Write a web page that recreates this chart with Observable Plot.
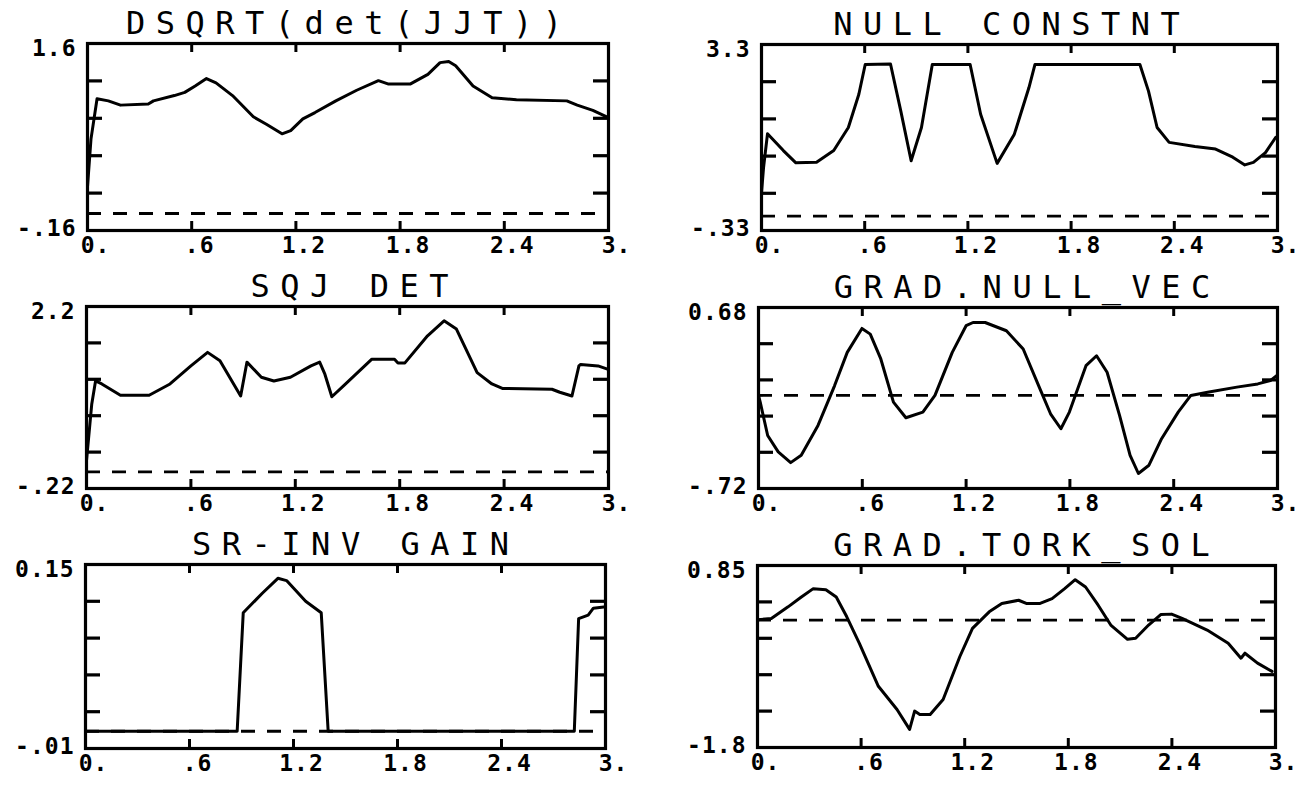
<!DOCTYPE html>
<html><head><meta charset="utf-8">
<script src="https://cdn.jsdelivr.net/npm/d3@7"></script>
<script src="https://cdn.jsdelivr.net/npm/@observablehq/plot@0.6"></script>
<style>
html,body{margin:0;padding:0;background:#fff;}
body{width:1307px;height:785px;overflow:hidden;position:relative;}
.panel{position:absolute;}
.panel svg{overflow:visible;}
</style></head><body>
<script>
// ---------- data ----------
const xTicks = [0, 0.6, 1.2, 1.8, 2.4, 3];
const xTickLabels = ["0.", ".6", "1.2", "1.8", "2.4", "3."];
const xInnerTicks = [0.6, 1.2, 1.8, 2.4];

const titles = ["DSQRT(det(JJT))", "NULL CONSTNT", "SQJ DET", "GRAD.NULL_VEC", "SR-INV GAIN", "GRAD.TORK_SOL"];
const yDomains = [[-0.16, 1.6], [-0.33, 3.3], [-0.22, 2.2], [-0.72, 0.68], [-0.01, 0.15], [-1.8, 0.85]];
const yTickLabels = [["-.16", "1.6"], ["-.33", "3.3"], ["-.22", "2.2"], ["-.72", "0.68"], ["-.01", "0.15"], ["-1.8", "0.85"]];
const refLevels = [0, -0.05, 0, 0, 0.005, 0.055];

const dsqrtDet = [[0,0.25],[0.02,0.7],[0.055,1.08],[0.12,1.06],[0.19,1.02],[0.35,1.03],[0.38,1.06],[0.50,1.11],[0.56,1.14],[0.62,1.20],[0.685,1.27],[0.74,1.23],[0.835,1.11],[0.955,0.91],[1.03,0.84],[1.12,0.75],[1.17,0.78],[1.24,0.89],[1.31,0.95],[1.43,1.06],[1.55,1.16],[1.675,1.25],[1.73,1.22],[1.86,1.22],[1.96,1.31],[2.03,1.42],[2.08,1.43],[2.12,1.39],[2.22,1.20],[2.33,1.09],[2.47,1.07],[2.76,1.06],[2.82,1.02],[2.91,0.97],[2.99,0.91]];

const nullConstnt = [[0,0.4],[0.012,0.9],[0.035,1.56],[0.127,1.23],[0.2,0.99],[0.32,1.0],[0.42,1.23],[0.505,1.68],[0.566,2.33],[0.603,2.91],[0.75,2.92],[0.81,2.0],[0.87,1.03],[0.93,1.68],[0.993,2.91],[1.213,2.91],[1.274,1.94],[1.37,0.98],[1.47,1.55],[1.555,2.46],[1.59,2.91],[2.20,2.91],[2.25,2.39],[2.30,1.68],[2.37,1.39],[2.52,1.31],[2.64,1.26],[2.74,1.1],[2.81,0.95],[2.86,1.0],[2.93,1.19],[2.99,1.49]];

const sqjDet = [[0,0.15],[0.03,0.9],[0.052,1.21],[0.088,1.17],[0.195,1.02],[0.36,1.02],[0.48,1.17],[0.60,1.41],[0.696,1.59],[0.767,1.48],[0.886,1.01],[0.922,1.46],[1.005,1.26],[1.077,1.21],[1.172,1.26],[1.29,1.41],[1.34,1.46],[1.37,1.30],[1.41,1.0],[1.48,1.15],[1.64,1.5],[1.77,1.5],[1.79,1.45],[1.83,1.45],[1.96,1.81],[2.055,2.01],[2.126,1.90],[2.245,1.32],[2.33,1.17],[2.39,1.11],[2.675,1.10],[2.72,1.06],[2.79,1.01],[2.83,1.41],[2.84,1.43],[2.94,1.41],[2.99,1.37]];

const gradNullVec = [[0,0.0],[0.01,-0.052],[0.053,-0.31],[0.114,-0.437],[0.186,-0.52],[0.247,-0.463],[0.344,-0.232],[0.44,0.076],[0.513,0.333],[0.598,0.518],[0.646,0.474],[0.707,0.282],[0.78,-0.052],[0.852,-0.173],[0.95,-0.129],[1.02,0.0],[1.12,0.333],[1.20,0.539],[1.24,0.564],[1.31,0.564],[1.433,0.5],[1.53,0.359],[1.627,0.05],[1.688,-0.142],[1.748,-0.258],[1.797,-0.129],[1.893,0.23],[1.954,0.307],[2.015,0.179],[2.087,-0.155],[2.148,-0.463],[2.196,-0.604],[2.257,-0.54],[2.33,-0.335],[2.426,-0.129],[2.499,0.0],[2.596,0.025],[2.765,0.064],[2.886,0.089],[2.959,0.115],[2.995,0.153]];

const srInvGain = [[0,0.005],[0.875,0.005],[0.91,0.108],[1.02,0.125],[1.11,0.138],[1.16,0.136],[1.27,0.118],[1.36,0.108],[1.40,0.005],[2.82,0.005],[2.845,0.103],[2.90,0.106],[2.93,0.112],[2.99,0.113]];

const gradTorkSol = [[0,0.06],[0.08,0.079],[0.177,0.248],[0.25,0.383],[0.323,0.513],[0.396,0.498],[0.456,0.392],[0.517,0.103],[0.59,-0.283],[0.70,-0.909],[0.808,-1.246],[0.881,-1.536],[0.91,-1.27],[0.94,-1.32],[1.0,-1.32],[1.075,-1.10],[1.172,-0.475],[1.245,-0.066],[1.342,0.175],[1.415,0.296],[1.512,0.344],[1.56,0.296],[1.633,0.296],[1.706,0.368],[1.779,0.513],[1.84,0.643],[1.90,0.537],[1.973,0.272],[2.046,-0.017],[2.143,-0.225],[2.19,-0.21],[2.265,-0.017],[2.337,0.137],[2.398,0.142],[2.459,0.079],[2.604,-0.09],[2.726,-0.283],[2.80,-0.5],[2.823,-0.427],[2.896,-0.572],[2.98,-0.692]];

const series = [dsqrtDet, nullConstnt, sqjDet, gradNullVec, srInvGain, gradTorkSol];

// ---------- layout ----------
const boxes = [
  {x:0, y:0, w:653, h:262}, {x:653, y:0, w:654, h:262},
  {x:0, y:262, w:653, h:258}, {x:653, y:262, w:654, h:258},
  {x:0, y:520, w:653, h:265}, {x:653, y:520, w:654, h:265}
];
const frames = [
  {l:87, t:43, r:608, b:230}, {l:761, t:44, r:1277, b:230},
  {l:86, t:306, r:608, b:488}, {l:758, t:307, r:1277, b:488},
  {l:85, t:564, r:605, b:748}, {l:757, t:565, r:1275, b:747}
];
const titleDx = [-4, -13, 2, 4, 5, 5];
const TITLE_LS = 10.5;

const INK = "#000";
const LABEL_FONT = "DejaVu Sans Mono";
series.forEach((data, i) => {
  const box = boxes[i], f = frames[i];
  const fw = f.r - f.l, fh = f.b - f.t;
  const [y0, y1] = yDomains[i];
  const yTicks = d3.range(1, 5).map(k => y0 + k * (y1 - y0) / 5);
  const chart = Plot.plot({
    width: box.w, height: box.h,
    marginLeft: f.l - box.x, marginTop: f.t - box.y,
    marginRight: box.x + box.w - f.r, marginBottom: box.y + box.h - f.b,
    x: {domain: [0, 3], axis: null},
    y: {domain: yDomains[i], axis: null},
    style: {background: "transparent", color: INK, overflow: "visible"},
    marks: [
      Plot.ruleY([refLevels[i]], {stroke: INK, strokeWidth: 2.8, strokeDasharray: "14,12"}),
      Plot.ruleX(xInnerTicks, {x: d => d, stroke: INK, strokeWidth: 3, insetBottom: fh - 9}),
      Plot.ruleX(xInnerTicks, {x: d => d, stroke: INK, strokeWidth: 3, insetTop: fh - 9}),
      Plot.ruleY(yTicks, {y: d => d, stroke: INK, strokeWidth: 3.2, insetRight: fw - 15}),
      Plot.ruleY(yTicks, {y: d => d, stroke: INK, strokeWidth: 3.2, insetLeft: fw - 15}),
      Plot.frame({stroke: INK, strokeWidth: 3.2}),
      Plot.line(data, {x: d => d[0], y: d => d[1], stroke: INK, strokeWidth: 3, strokeLinejoin: "round"}),
      Plot.text(xTicks, {x: d => d, text: (d, j) => xTickLabels[j], frameAnchor: "bottom", lineAnchor: "top", dy: 6, dx: 8, fontSize: 23, fontWeight: "bold", fontFamily: LABEL_FONT, fill: INK}),
      Plot.text([y1], {y: d => d, text: () => yTickLabels[i][1], frameAnchor: "left", textAnchor: "end", lineAnchor: "middle", dx: -11, dy: 5, fontSize: 23, fontWeight: "bold", fontFamily: LABEL_FONT, fill: INK}),
      Plot.text([y0], {y: d => d, text: () => yTickLabels[i][0], frameAnchor: "left", textAnchor: "end", lineAnchor: "middle", dx: -11, dy: -2, fontSize: 23, fontWeight: "bold", fontFamily: LABEL_FONT, fill: INK}),
      Plot.text([titles[i]], {text: d => d, frameAnchor: "top", lineAnchor: "bottom", dy: -10, dx: titleDx[i] + TITLE_LS / 2, fontSize: 32, fontFamily: "DejaVu Sans Mono", fill: INK})
    ]
  });
  chart.querySelectorAll("text").forEach(t => {
    const s = t.textContent;
    if (s === titles[i]) { t.style.letterSpacing = TITLE_LS + "px"; t.style.whiteSpace = "pre"; }
    else if (xTickLabels.includes(s) || yTickLabels[i].includes(s)) { t.style.letterSpacing = "1px"; }
  });
  const div = document.createElement("div");
  div.className = "panel";
  div.style.left = box.x + "px";
  div.style.top = box.y + "px";
  div.appendChild(chart);
  document.body.appendChild(div);
});
</script>
</body></html>
